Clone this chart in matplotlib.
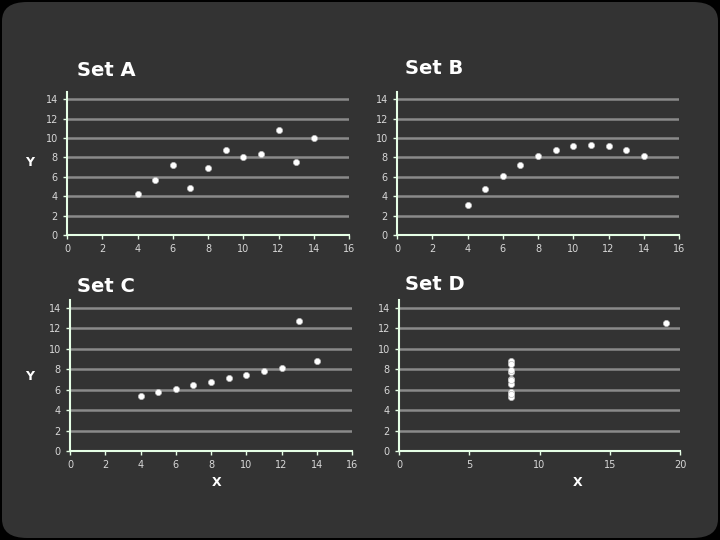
import matplotlib
matplotlib.use('Agg')
import matplotlib.pyplot as plt
from matplotlib.patches import FancyBboxPatch

# Anscombe's quartet
x_abc = [10, 8, 13, 9, 11, 14, 6, 4, 12, 7, 5]
y_a = [8.04, 6.95, 7.58, 8.81, 8.33, 9.96, 7.24, 4.26, 10.84, 4.82, 5.68]
y_b = [9.14, 8.14, 8.74, 8.77, 9.26, 8.10, 6.13, 3.10, 9.13, 7.26, 4.74]
y_c = [7.46, 6.77, 12.74, 7.11, 7.81, 8.84, 6.08, 5.39, 8.15, 6.42, 5.73]
x_d = [8, 8, 8, 8, 8, 8, 8, 19, 8, 8, 8]
y_d = [6.58, 5.76, 7.71, 8.84, 8.47, 7.04, 5.25, 12.50, 5.56, 7.91, 6.89]

titles = ['Set A', 'Set B', 'Set C', 'Set D']

BG = '#333333'
SPINE = '#e6ffe6'
GRID = '#8a8a8a'
TXT = '#d8d8d8'

W, H = 720, 540
fig = plt.figure(figsize=(7.2, 5.4), dpi=100, facecolor='black')

bg = FancyBboxPatch((2 / W, 2 / H), 1 - 4 / W, 1 - 4 / H,
                    boxstyle='round,pad=0,rounding_size=0.035',
                    transform=fig.transFigure, facecolor=BG, edgecolor='none',
                    zorder=-10)
fig.patches.append(bg)


def px_axes(x0, x1, ytop, ybot):
    return [x0 / W, 1 - ybot / H, (x1 - x0) / W, (ybot - ytop) / H]


panels = [
    (px_axes(67, 349, 92, 235), x_abc, y_a, 16, 2),
    (px_axes(397, 679, 92, 235), x_abc, y_b, 16, 2),
    (px_axes(70, 352, 300, 451), x_abc, y_c, 16, 2),
    (px_axes(399, 680, 300, 451), x_d, y_d, 20, 5),
]

for rect, xs, ys, xmax, xstep in panels:
    ax = fig.add_axes(rect)
    ax.set_facecolor('none')
    ax.set_xlim(0, xmax)
    ax.set_ylim(0, 14.75)
    ax.set_xticks(range(0, xmax + 1, xstep))
    ax.set_yticks(range(0, 15, 2))
    for s in ['top', 'right']:
        ax.spines[s].set_visible(False)
    for s in ['left', 'bottom']:
        ax.spines[s].set_color(SPINE)
        ax.spines[s].set_linewidth(1.5)
    ax.tick_params(colors=SPINE, labelcolor=TXT, labelsize=7, length=3, width=1)
    for yv in range(2, 15, 2):
        ax.axhline(yv, color=GRID, lw=1.8, zorder=0)
    ax.scatter(xs, ys, s=20, color='white', edgecolors='#bbbbbb', linewidths=0.5,
               zorder=3, clip_on=False)

# titles and axis labels
fig.text(77 / W, 1 - 70 / H, titles[0], color='white', fontsize=14, fontweight='bold', va='center')
fig.text(405 / W, 1 - 68 / H, titles[1], color='white', fontsize=14, fontweight='bold', va='center')
fig.text(77 / W, 1 - 287 / H, titles[2], color='white', fontsize=14, fontweight='bold', va='center')
fig.text(405 / W, 1 - 285 / H, titles[3], color='white', fontsize=14, fontweight='bold', va='center')

fig.text(30 / W, 1 - 163 / H, 'Y', color='white', fontsize=9, fontweight='bold', ha='center', va='center')
fig.text(30 / W, 1 - 377 / H, 'Y', color='white', fontsize=9, fontweight='bold', ha='center', va='center')
fig.text(217 / W, 1 - 483 / H, 'X', color='white', fontsize=9, fontweight='bold', ha='center', va='center')
fig.text(578 / W, 1 - 483 / H, 'X', color='white', fontsize=9, fontweight='bold', ha='center', va='center')

fig.savefig('out.png', dpi=100, facecolor='black')
